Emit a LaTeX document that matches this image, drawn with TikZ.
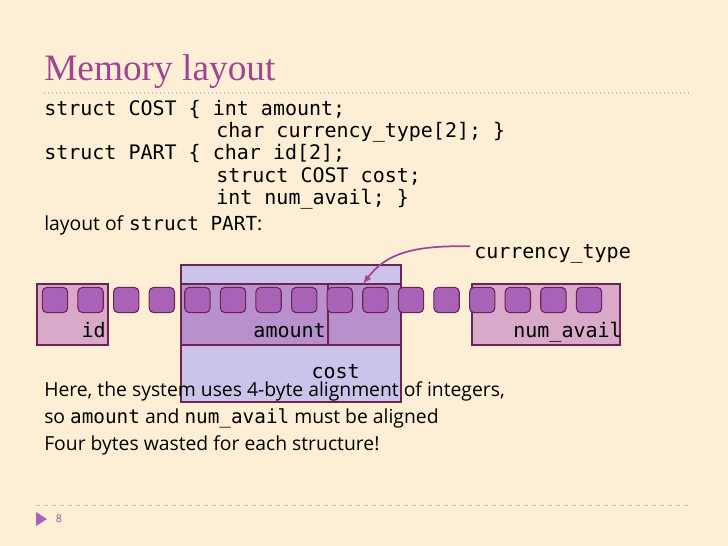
\documentclass[tikz,border=0pt]{standalone}
\usepackage{fontspec}
\setmainfont{Open Sans}
\setmonofont{DejaVu Sans Mono}
\newfontfamily\titlefont{Liberation Serif}
\usetikzlibrary{positioning}
\definecolor{paper}{HTML}{FDEFD6}
\definecolor{plum}{HTML}{A0458F}
\definecolor{frame}{HTML}{6E2452}
\definecolor{byte}{HTML}{A862B8}
\definecolor{field}{HTML}{D8A9C8}
\definecolor{outer}{HTML}{CBC3EA}
\definecolor{inner}{HTML}{B990CE}
\newcommand{\us}{\symbol{95}}
\tikzset{>=latex}
\tikzset{
  code/.style={anchor=base west,inner sep=0pt,font=\fontsize{15}{18}\ttfamily},
  body/.style={anchor=base west,inner sep=0pt,font=\fontsize{14.5}{17}\selectfont},
  region/.style={draw=frame,line width=0.8pt},
  cell/.style={draw=frame,fill=byte,line width=0.8pt,rounded corners=3.5pt,minimum size=19pt,inner sep=0pt}
}
\begin{document}
\begin{tikzpicture}[x=0.75pt,y=-0.75pt]
        \fill[paper] (0,0) rectangle (728,546);
        \useasboundingbox (0,0) rectangle (728,546);
        %%%
        \node[anchor=base west,inner sep=0pt,text=plum,font=\fontsize{28}{32}\titlefont] (title) at (44,80) {Memory layout};
        \draw[plum!40,dotted,line width=1pt] (44,93) -- (692,93);
        %%%
        \node[code] (l1) at (44,115) {struct COST \{ int amount;};
        \node[code] (l2) at (216,137) {char currency\us type[2]; \}};
        \node[code] (l3) at (44,159) {struct PART \{ char id[2];};
        \node[code] (l4) at (216,182) {struct COST cost;};
        \node[code] (l5) at (216,204) {int num\us avail; \}};
        \node[body] (l6) at (44,230) {layout of \texttt{struct PART}:};
        %%%
        \draw[region,fill=outer] (181,265) rectangle (401,402);
        \draw[region,fill=inner] (181,284) rectangle (328,345);
        \draw[region,fill=inner] (328,284) rectangle (401,345);
        \draw[region,fill=field] (37,284) rectangle (108,345);
        \draw[region,fill=field] (472,284) rectangle (620,345);
        \foreach \i in {0,...,15}
            \node[cell] (b\i) at ({55+35.6*\i},300) {};
        %%%
        \node[code,anchor=base east] (id) at (106,337) {id};
        \node[code,anchor=base east] (amount) at (326,337) {amount};
        \node[code,anchor=base east] (numavail) at (622,337) {num\us avail};
        \node[code,anchor=base east] (cost) at (360,378) {cost};
        \node[code] (curr) at (474,258) {currency\us type};
        \coordinate (tip) at (363,284);
        \draw[plum,line width=1.3pt,->] (curr.west) ++(-4,-7) .. controls (410,245) and (385,255) .. (tip);
        %%%
        \node[body] (t1) at (44,396) {Here, the system uses 4-byte alignment of integers,};
        \node[body] (t2) at (44,423) {so \texttt{amount} and \texttt{num\us avail} must be aligned};
        \node[body] (t3) at (44,450) {Four bytes wasted for each structure!};
        %%%
        \draw[plum!40,dashed,line width=0.6pt] (36,505) -- (692,505);
        \fill[byte] (36,512) -- (47,519) -- (36,526) -- cycle;
        \node[text=plum,font=\fontsize{8}{10}\selectfont] (page) at (59,519) {8};
\end{tikzpicture}
\end{document}
